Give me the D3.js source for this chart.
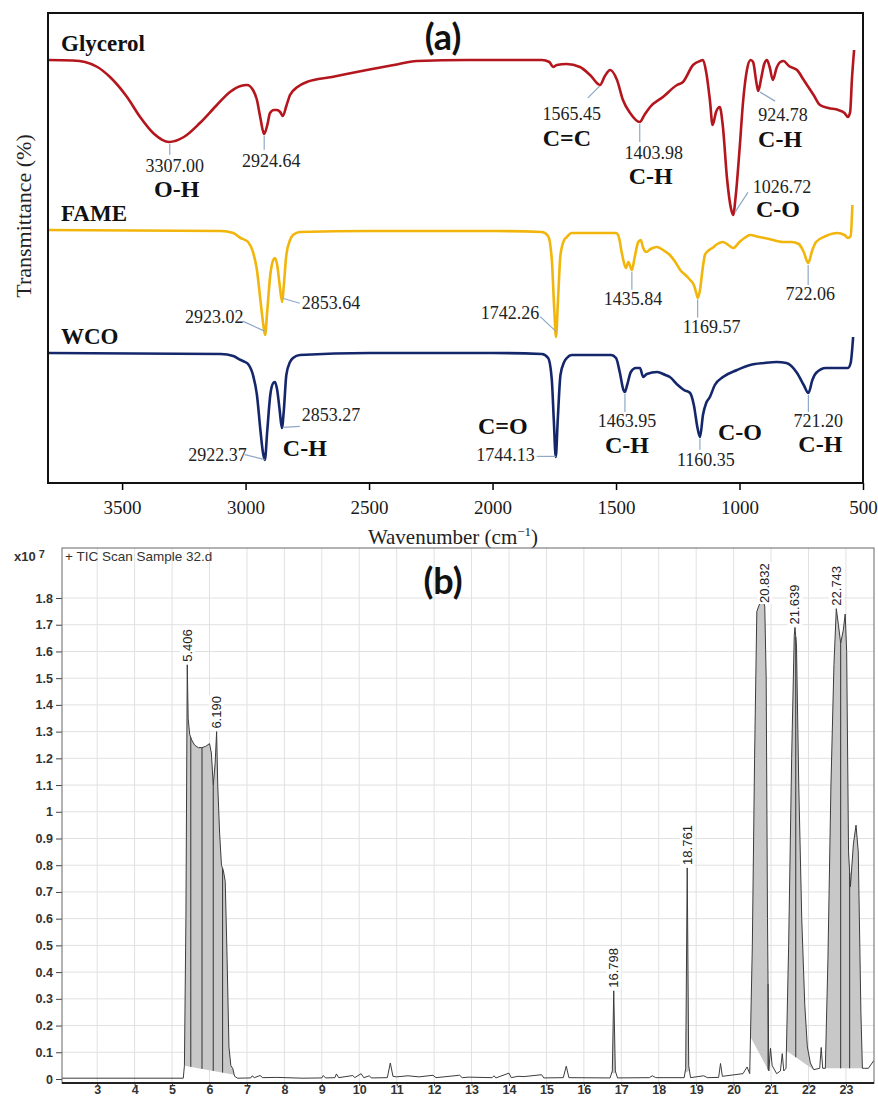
<!DOCTYPE html>
<html>
<head>
<meta charset="utf-8">
<title>FTIR spectra and GC-MS chromatogram</title>
<script src="https://cdn.jsdelivr.net/npm/d3@7"></script>
<style>
  html, body { margin: 0; padding: 0; background: #fff; }
  svg { display: block; }
</style>
</head>
<body>
<div id="figure"></div>
<script>
// ---------- panel (a): FTIR, [wavenumber (cm-1), transmittance offset (a.u.)]
const glycerol = [
  [3800, 42.3], [3700, 42.25], [3650, 42.1], [3600, 41.6], [3549, 40.6], [3480, 38.6],
  [3427, 36.6], [3370, 34.9], [3310, 34.1], [3250, 34.6], [3185, 36.0], [3120, 37.7],
  [3063, 39.1], [3020, 39.7], [2994, 39.8], [2970, 39.3], [2954, 38.3], [2940, 36.5],
  [2925, 34.9], [2912, 35.8], [2901, 37.0], [2885, 37.3], [2873, 37.3], [2860, 37.1],
  [2849, 36.7], [2835, 37.7], [2820, 38.8], [2790, 39.6], [2752, 40.1], [2650, 40.6],
  [2509, 41.3], [2400, 41.8], [2306, 42.2], [2100, 42.3], [1800, 42.3], [1770, 42.1],
  [1755, 41.6], [1740, 41.8], [1700, 41.9], [1646, 41.6], [1605, 40.8], [1565, 39.8],
  [1545, 40.7], [1524, 41.3], [1496, 40.3], [1472, 38.3], [1443, 37.0], [1404, 36.1],
  [1385, 36.8], [1362, 37.6], [1310, 38.6], [1253, 39.8], [1229, 40.1], [1188, 41.8],
  [1160, 42.2], [1148, 42.3], [1135, 41.1], [1120, 38.3], [1109, 35.8], [1095, 37.1],
  [1080, 37.6], [1068, 35.8], [1050, 30.3], [1035, 27.5], [1026, 26.8], [1015, 28.8],
  [1000, 33.3], [985, 38.3], [970, 41.3], [955, 42.3], [945, 42.1], [932, 40.1],
  [924, 39.2], [912, 40.5], [900, 41.9], [889, 42.3], [878, 41.6], [865, 40.3],
  [850, 41.5], [835, 42.1], [822, 42.2], [800, 41.7], [767, 41.3], [740, 40.3],
  [700, 38.8], [674, 37.8], [640, 37.5], [600, 37.3], [575, 37.0], [561, 36.6],
  [552, 37.1], [545, 40.3], [536, 43.3]
];
const fame = [
  [3800, 25.3], [3100, 25.2], [3050, 25.0], [3020, 24.5], [3002, 24.3], [2990, 24.1],
  [2970, 23.1], [2954, 21.3], [2940, 18.3], [2928, 15.8], [2921, 14.8], [2912, 17.3],
  [2900, 20.8], [2888, 22.3], [2881, 22.5], [2872, 21.8], [2862, 19.8], [2852, 18.1],
  [2845, 19.8], [2835, 22.8], [2820, 24.3], [2808, 24.8], [2780, 25.1], [2500, 25.2],
  [2000, 25.2], [1800, 25.1], [1775, 24.7], [1760, 22.3], [1750, 17.3], [1743, 14.6],
  [1735, 18.3], [1725, 22.8], [1710, 24.3], [1699, 24.6], [1680, 25.0], [1500, 25.0],
  [1490, 24.7], [1475, 22.8], [1460, 21.5], [1450, 22.1], [1436, 21.3], [1425, 22.5],
  [1410, 24.1], [1400, 24.3], [1390, 23.5], [1378, 23.1], [1360, 23.4], [1334, 23.6],
  [1310, 23.3], [1282, 22.8], [1260, 22.1], [1240, 21.3], [1215, 20.7], [1200, 20.3],
  [1185, 19.8], [1175, 19.0], [1169, 18.5], [1160, 19.3], [1150, 21.3], [1140, 22.8],
  [1132, 23.1], [1110, 23.5], [1090, 23.9], [1067, 24.1], [1040, 23.7], [1026, 23.5],
  [1000, 24.1], [980, 24.5], [957, 24.8], [920, 24.6], [880, 24.4], [824, 24.1],
  [790, 24.1], [760, 23.9], [740, 23.1], [722, 22.0], [705, 23.3], [690, 24.1],
  [650, 24.7], [605, 25.0], [575, 24.8], [561, 24.5], [550, 24.7], [543, 27.8]
];
const wco = [
  [3800, 13.0], [3100, 12.9], [3050, 12.7], [3020, 12.3], [3002, 12.1], [2990, 11.9],
  [2970, 10.8], [2954, 8.8], [2940, 5.3], [2930, 3.1], [2922, 2.3], [2912, 5.3],
  [2900, 8.8], [2888, 10.0], [2881, 10.1], [2872, 9.3], [2862, 7.3], [2853, 5.5],
  [2845, 7.3], [2835, 10.8], [2820, 12.1], [2808, 12.5], [2780, 12.8], [2500, 13.0],
  [2000, 13.0], [1800, 12.9], [1775, 12.5], [1760, 10.3], [1752, 6.3], [1744, 2.6],
  [1736, 6.3], [1725, 10.8], [1710, 12.1], [1699, 12.5], [1680, 12.8], [1520, 12.8],
  [1500, 12.5], [1485, 11.1], [1470, 9.3], [1464, 9.1], [1455, 9.8], [1440, 11.1],
  [1420, 11.5], [1403, 11.5], [1390, 10.6], [1375, 10.9], [1334, 11.1], [1300, 10.8],
  [1282, 10.6], [1250, 9.8], [1225, 9.3], [1200, 9.0], [1185, 7.8], [1170, 5.5],
  [1160, 4.6], [1148, 6.8], [1135, 8.0], [1120, 8.6], [1100, 9.8], [1067, 10.6],
  [1010, 11.3], [957, 11.8], [900, 12.0], [850, 12.1], [810, 12.0], [767, 11.0],
  [740, 9.8], [721, 9.0], [705, 10.3], [690, 11.0], [650, 11.5], [600, 11.5],
  [561, 11.5], [550, 12.0], [540, 14.6]
];

const wavenumberTicks = [3500, 3000, 2500, 2000, 1500, 1000, 500];

const glycerolPeaks = [3307.00, 2924.64, 1565.45, 1403.98, 1026.72, 924.78];
const glycerolBonds = ['O-H', '', 'C=C', 'C-H', 'C-O', 'C-H'];
const famePeaks = [2923.02, 2853.64, 1742.26, 1435.84, 1169.57, 722.06];
const fameBonds = ['', '', '', '', '', ''];
const wcoPeaks = [2922.37, 2853.27, 1744.13, 1463.95, 1160.35, 721.20];
const wcoBonds = ['', 'C-H', 'C=O', 'C-H', 'C-O', 'C-H'];

// ---------- panel (b): TIC, [retention time (min), abundance (x10^7)]
const tic = [
  [2.06, 0.003], [5.30, 0.003], [5.33, 0.05], [5.37, 0.6], [5.406, 1.55], [5.43, 1.35],
  [5.47, 1.29], [5.52, 1.27], [5.60, 1.25], [5.70, 1.24], [5.80, 1.24], [5.90, 1.245],
  [6.00, 1.255], [6.05, 1.22], [6.10, 1.10], [6.15, 1.18], [6.19, 1.30], [6.22, 1.10],
  [6.27, 0.92], [6.32, 0.80], [6.37, 0.78], [6.42, 0.74], [6.47, 0.45], [6.52, 0.12],
  [6.57, 0.05], [6.62, 0.04], [6.67, 0.01], [6.75, 0.003], [7.10, 0.004], [7.14, 0.012],
  [7.20, 0.005], [7.35, 0.013], [7.42, 0.005], [7.80, 0.006], [8.50, 0.003], [9.00, 0.004],
  [9.04, 0.013], [9.10, 0.004], [9.35, 0.005], [9.39, 0.019], [9.45, 0.005], [9.83, 0.013],
  [9.88, 0.005], [10.05, 0.02], [10.12, 0.005], [10.27, 0.012], [10.32, 0.004], [10.75, 0.005],
  [10.83, 0.06], [10.90, 0.01], [11.00, 0.008], [11.30, 0.012], [11.60, 0.008], [11.97, 0.014],
  [12.05, 0.005], [12.68, 0.014], [12.75, 0.005], [12.93, 0.007], [13.55, 0.005], [13.60, 0.012],
  [13.65, 0.004], [14.00, 0.022], [14.06, 0.005], [14.24, 0.01], [14.40, 0.009], [14.87, 0.016],
  [14.93, 0.004], [15.45, 0.005], [15.53, 0.048], [15.60, 0.005], [16.70, 0.004], [16.76, 0.03],
  [16.798, 0.33], [16.84, 0.03], [16.90, 0.004], [17.75, 0.005], [17.83, 0.012], [17.92, 0.005],
  [18.68, 0.005], [18.72, 0.04], [18.761, 0.79], [18.80, 0.05], [18.85, 0.005], [19.20, 0.012],
  [19.30, 0.005], [19.60, 0.006], [19.65, 0.058], [19.70, 0.01], [20.25, 0.02], [20.36, 0.045],
  [20.43, 0.02], [20.50, 0.5], [20.56, 1.2], [20.62, 1.75], [20.70, 1.78], [20.78, 1.79],
  [20.832, 1.77], [20.87, 1.5], [20.905, 0.6], [20.94, 0.03], [20.985, 0.115], [21.03, 0.05],
  [21.15, 0.02], [21.25, 0.03], [21.30, 0.095], [21.34, 0.03], [21.40, 0.04], [21.47, 0.5],
  [21.55, 1.2], [21.62, 1.66], [21.639, 1.69], [21.68, 1.62], [21.74, 1.1], [21.82, 0.6],
  [21.90, 0.28], [21.97, 0.12], [22.05, 0.06], [22.14, 0.035], [22.30, 0.04], [22.34, 0.118],
  [22.38, 0.04], [22.45, 0.04], [22.52, 0.45], [22.60, 1.1], [22.68, 1.55], [22.743, 1.76],
  [22.80, 1.7], [22.86, 1.63], [22.93, 1.68], [22.98, 1.74], [23.02, 1.6], [23.07, 0.85],
  [23.12, 0.72], [23.20, 0.88], [23.27, 0.95], [23.33, 0.85], [23.40, 0.25], [23.44, 0.04],
  [23.50, 0.04], [23.60, 0.04], [23.70, 0.06], [23.75, 0.07]
];
const ticPeakLabels = [5.406, 6.190, 16.798, 18.761, 20.832, 21.639, 22.743];
const ticRanges = [[5.33, 6.66], [16.74, 16.86], [18.70, 18.82], [20.45, 20.94], [21.41, 22.14], [22.43, 23.44]];
const ticCuts = [5.5, 5.8, 6.1, 6.35, 20.92, 21.66, 22.86, 23.10];
const timeTicks = [3, 4, 5, 6, 7, 8, 9, 10, 11, 12, 13, 14, 15, 16, 17, 18, 19, 20, 21, 22, 23];
const abundanceTicks = [0, 0.1, 0.2, 0.3, 0.4, 0.5, 0.6, 0.7, 0.8, 0.9, 1, 1.1, 1.2, 1.3, 1.4, 1.5, 1.6, 1.7, 1.8];

// ---------- helpers
const serif = '"Liberation Serif", "Times New Roman", serif';
const sans = '"Liberation Sans", Arial, sans-serif';
const narrow = '"Liberation Sans Narrow", "Arial Narrow", "Liberation Sans", sans-serif';

// linear interpolation inside a [x, y] list (x may run either way)
function valueAt(series, x) {
  for (let i = 0; i < series.length - 1; i++) {
    const [x0, y0] = series[i], [x1, y1] = series[i + 1];
    if ((x - x0) * (x - x1) <= 0) {
      const k = x1 === x0 ? 0 : (x - x0) / (x1 - x0);
      return y0 + k * (y1 - y0);
    }
  }
  return series[series.length - 1][1];
}

const svg = d3.select('#figure').append('svg')
  .attr('width', 878)
  .attr('height', 1097);

// =================== panel (a) ===================
const boxA = {left: 48, right: 863, top: 13, bottom: 483};
const xA = d3.scaleLinear().domain([3800, 500]).range([boxA.left, boxA.right]);
const yA = d3.scaleLinear().domain([0, 47]).range([boxA.bottom, boxA.top]);

const gA = svg.append('g');

// label offsets from the dip point: lead [x1,y1,x2,y2], num [dx,dy,anchor], bond [dx,dy]
const glycerolLayout = [
  {lead: [0, 2, 0, 13], num: [5, 30, 'middle'], bond: [7, 55]},
  {lead: [0, 2, 0, 16], num: [7, 33, 'middle']},
  {lead: [0, 1, -12, 13], num: [-28, 35, 'middle'], bond: [-33, 61]},
  {lead: [0, 2, 0, 20], num: [14, 37, 'middle'], bond: [11, 62]},
  {lead: [2, -2, 15, -22], num: [49, -21, 'middle'], bond: [45, 3]},
  {lead: [2, 2, 17, 11], num: [25, 31, 'middle'], bond: [22, 57]}
];
const fameLayout = [
  {lead: [0, -1, -22, -11], num: [-21, -9, 'end']},
  {lead: [1, -1, 18, 4], num: [20, 10, 'start']},
  {lead: [0, -2, -16, -17], num: [-17, -15, 'end']},
  {lead: [0, 2, 0, 20], num: [1, 35, 'middle']},
  {lead: [0, 2, 0, 20], num: [14, 35, 'middle']},
  {lead: [0, 2, 0, 22], num: [2, 37, 'middle']}
];
const wcoLayout = [
  {lead: [0, 0, -20, -5], num: [-18, 1, 'end']},
  {lead: [1, 0, 18, -1], num: [20, -6, 'start'], bond: [23, 29]},
  {lead: [0, 0, -19, 0], num: [-21, 5, 'end'], bond: [-53, -22]},
  {lead: [0, 2, 0, 20], num: [2, 35, 'middle'], bond: [2, 61]},
  {lead: [0, 2, 0, 13], num: [6, 29, 'middle'], bond: [40, 3]},
  {lead: [0, 2, 0, 19], num: [10, 34, 'middle'], bond: [12, 59]}
];

const spectra = [
  {name: 'Glycerol', data: glycerol, color: '#b3161d', peaks: glycerolPeaks, bonds: glycerolBonds, layout: glycerolLayout},
  {name: 'FAME', data: fame, color: '#f2b50c', peaks: famePeaks, bonds: fameBonds, layout: fameLayout},
  {name: 'WCO', data: wco, color: '#15276b', peaks: wcoPeaks, bonds: wcoBonds, layout: wcoLayout}
];

const lineA = d3.line()
  .x(d => xA(d[0]))
  .y(d => yA(d[1]))
  .curve(d3.curveMonotoneX);

gA.selectAll('path.spectrum')
  .data(spectra)
  .enter()
  .append('path')
  .attr('class', 'spectrum')
  .attr('d', d => lineA(d.data))
  .attr('fill', 'none')
  .attr('stroke', d => d.color)
  .attr('stroke-width', 2.6)
  .attr('stroke-linejoin', 'round');

spectra.forEach(s => {
  gA.append('text')
    .attr('x', boxA.left + 13)
    .attr('y', yA(s.data[0][1]) - 9)
    .attr('font-family', serif)
    .attr('font-weight', 'bold')
    .attr('font-size', 23)
    .attr('fill', '#111')
    .text(s.name);

  s.peaks.forEach((wn, i) => {
    const x0 = xA(wn), y0 = yA(valueAt(s.data, wn));
    const L = s.layout[i];
    gA.append('line')
      .attr('x1', x0 + L.lead[0]).attr('y1', y0 + L.lead[1])
      .attr('x2', x0 + L.lead[2]).attr('y2', y0 + L.lead[3])
      .attr('stroke', '#8ea8c9')
      .attr('stroke-width', 1.2);
    gA.append('text')
      .attr('x', x0 + L.num[0]).attr('y', y0 + L.num[1])
      .attr('text-anchor', L.num[2])
      .attr('font-family', serif)
      .attr('font-size', 18)
      .attr('fill', '#222')
      .text(wn.toFixed(2));
    if (s.bonds[i]) {
      gA.append('text')
        .attr('x', x0 + L.bond[0]).attr('y', y0 + L.bond[1])
        .attr('text-anchor', 'middle')
        .attr('font-family', serif)
        .attr('font-weight', 'bold')
        .attr('font-size', 24)
        .attr('fill', '#111')
        .text(s.bonds[i]);
    }
  });
});

gA.append('g')
  .attr('transform', `translate(0,${boxA.bottom})`)
  .call(d3.axisBottom(xA).tickValues(wavenumberTicks).tickFormat(d3.format('d'))
    .tickSize(7).tickPadding(11).tickSizeOuter(0))
  .call(g => g.select('.domain').remove())
  .call(g => g.selectAll('line').attr('stroke', '#000').attr('stroke-width', 1.5))
  .call(g => g.selectAll('text')
    .attr('font-family', serif)
    .attr('font-size', 19)
    .attr('fill', '#1a1a1a'));

gA.append('rect')
  .attr('x', boxA.left).attr('y', boxA.top)
  .attr('width', boxA.right - boxA.left)
  .attr('height', boxA.bottom - boxA.top)
  .attr('fill', 'none')
  .attr('stroke', '#111')
  .attr('stroke-width', 2);

const xTitle = gA.append('text')
  .attr('x', 453).attr('y', 544)
  .attr('text-anchor', 'middle')
  .attr('font-family', serif)
  .attr('font-size', 21)
  .attr('fill', '#222');
xTitle.append('tspan').text('Wavenumber (cm');
xTitle.append('tspan').attr('dy', -8).attr('font-size', 13).text('\u22121');
xTitle.append('tspan').attr('dy', 8).text(')');

gA.append('text')
  .attr('transform', 'translate(31,216) rotate(-90)')
  .attr('text-anchor', 'middle')
  .attr('font-family', serif)
  .attr('font-size', 22)
  .attr('fill', '#222')
  .text('Transmittance (%)');

gA.append('text')
  .attr('x', 443).attr('y', 50)
  .attr('text-anchor', 'middle')
  .attr('font-family', 'Lato, "Open Sans", sans-serif')
  .attr('font-weight', 'bold')
  .attr('font-size', 36)
  .attr('fill', '#111')
  .text('(a)');

// =================== panel (b) ===================
const boxB = {left: 62, right: 874, top: 548, bottom: 1083};
const xB = d3.scaleLinear().domain([2.06, 23.75]).range([boxB.left, boxB.right]);
const yB = d3.scaleLinear().domain([0, 1.8]).range([1079, 598]);

const gB = svg.append('g');

gB.append('clipPath').attr('id', 'clipB')
  .append('rect')
  .attr('x', boxB.left).attr('y', boxB.top)
  .attr('width', boxB.right - boxB.left)
  .attr('height', boxB.bottom - boxB.top);

// grid
gB.append('g')
  .selectAll('line')
  .data(timeTicks)
  .enter()
  .append('line')
  .attr('x1', d => xB(d)).attr('x2', d => xB(d))
  .attr('y1', boxB.top).attr('y2', boxB.bottom)
  .attr('stroke', '#e1e1e1').attr('stroke-width', 1);
gB.append('g')
  .selectAll('line')
  .data(abundanceTicks.filter(d => d > 0))
  .enter()
  .append('line')
  .attr('x1', boxB.left).attr('x2', boxB.right)
  .attr('y1', d => yB(d)).attr('y2', d => yB(d))
  .attr('stroke', '#e1e1e1').attr('stroke-width', 1);

const plotB = gB.append('g').attr('clip-path', 'url(#clipB)');

const ticAt = t => valueAt(tic, t);
const baseAt = (r, t) => {
  const v0 = ticAt(r[0]), v1 = ticAt(r[1]);
  return v0 + (t - r[0]) / (r[1] - r[0]) * (v1 - v0);
};

// integrated peak areas
ticRanges.forEach(r => {
  const inner = tic.filter(d => d[0] > r[0] && d[0] < r[1]);
  const pts = [[r[0], ticAt(r[0])], ...inner, [r[1], ticAt(r[1])]];
  const poly = pts.map(d => [xB(d[0]), yB(d[1])]);
  poly.push([xB(r[1]), yB(ticAt(r[1]))], [xB(r[0]), yB(ticAt(r[0]))]);
  plotB.append('path')
    .attr('d', 'M' + poly.join('L') + 'Z')
    .attr('fill', '#c8c8c8');
});

ticCuts.forEach(t => {
  const r = ticRanges.find(q => t >= q[0] && t <= q[1]);
  plotB.append('line')
    .attr('x1', xB(t)).attr('x2', xB(t))
    .attr('y1', yB(r ? baseAt(r, t) : 0))
    .attr('y2', yB(ticAt(t)))
    .attr('stroke', '#333')
    .attr('stroke-width', 1);
});

plotB.append('path')
  .attr('d', d3.line().x(d => xB(d[0])).y(d => yB(d[1]))(tic))
  .attr('fill', 'none')
  .attr('stroke', '#3c3c3c')
  .attr('stroke-width', 1);

// peak labels
ticPeakLabels.forEach(t => {
  const g = gB.append('g')
    .attr('transform', `translate(${xB(t)},${yB(ticAt(t)) - 2}) rotate(-90)`);
  const txt = g.append('text')
    .attr('x', 1).attr('y', 4.5)
    .attr('font-family', narrow)
    .attr('font-size', 13)
    .attr('fill', '#222')
    .text(t.toFixed(3));
  const bb = txt.node().getBBox();
  g.insert('rect', 'text')
    .attr('x', bb.x - 1).attr('y', bb.y)
    .attr('width', bb.width + 2).attr('height', bb.height)
    .attr('fill', '#fff');
});

// axes
gB.append('g')
  .attr('transform', `translate(${boxB.left},0)`)
  .call(d3.axisLeft(yB).tickValues(abundanceTicks).tickSize(6).tickPadding(3)
    .tickFormat(d => String(+d.toFixed(1))))
  .call(g => g.select('.domain').remove())
  .call(g => g.selectAll('line').attr('stroke', '#444'))
  .call(g => g.selectAll('text')
    .attr('font-family', sans)
    .attr('font-weight', 'bold')
    .attr('font-size', 12.5)
    .attr('fill', '#333'));

gB.append('g')
  .attr('transform', `translate(0,${boxB.bottom})`)
  .call(d3.axisBottom(xB).tickValues(timeTicks).tickSize(3).tickSizeOuter(0))
  .call(g => g.select('.domain').remove())
  .call(g => g.selectAll('line').attr('stroke', '#333'))
  .call(g => g.selectAll('text')
    .attr('y', 2)
    .attr('font-family', sans)
    .attr('font-weight', 'bold')
    .attr('font-size', 12.5)
    .attr('fill', '#333'));

gB.append('rect')
  .attr('x', boxB.left).attr('y', boxB.top)
  .attr('width', boxB.right - boxB.left)
  .attr('height', boxB.bottom - boxB.top)
  .attr('fill', 'none')
  .attr('stroke', '#666')
  .attr('stroke-width', 1);
gB.append('line')
  .attr('x1', boxB.left).attr('x2', boxB.right)
  .attr('y1', boxB.bottom).attr('y2', boxB.bottom)
  .attr('stroke', '#222')
  .attr('stroke-width', 2.2);

const scaleNote = gB.append('text')
  .attr('x', 14).attr('y', 561)
  .attr('font-family', sans)
  .attr('font-weight', 'bold')
  .attr('font-size', 13)
  .attr('fill', '#333');
scaleNote.append('tspan').text('x10');
scaleNote.append('tspan').attr('dx', 3).attr('dy', -3).attr('font-size', 11).text('7');

gB.append('text')
  .attr('x', 65).attr('y', 561)
  .attr('font-family', sans)
  .attr('font-size', 13.5)
  .attr('fill', '#333')
  .text('+ TIC Scan Sample 32.d');

gB.append('text')
  .attr('x', 443).attr('y', 594)
  .attr('text-anchor', 'middle')
  .attr('font-family', 'Lato, "Open Sans", sans-serif')
  .attr('font-weight', 'bold')
  .attr('font-size', 36)
  .attr('fill', '#111')
  .text('(b)');
</script>
</body>
</html>
